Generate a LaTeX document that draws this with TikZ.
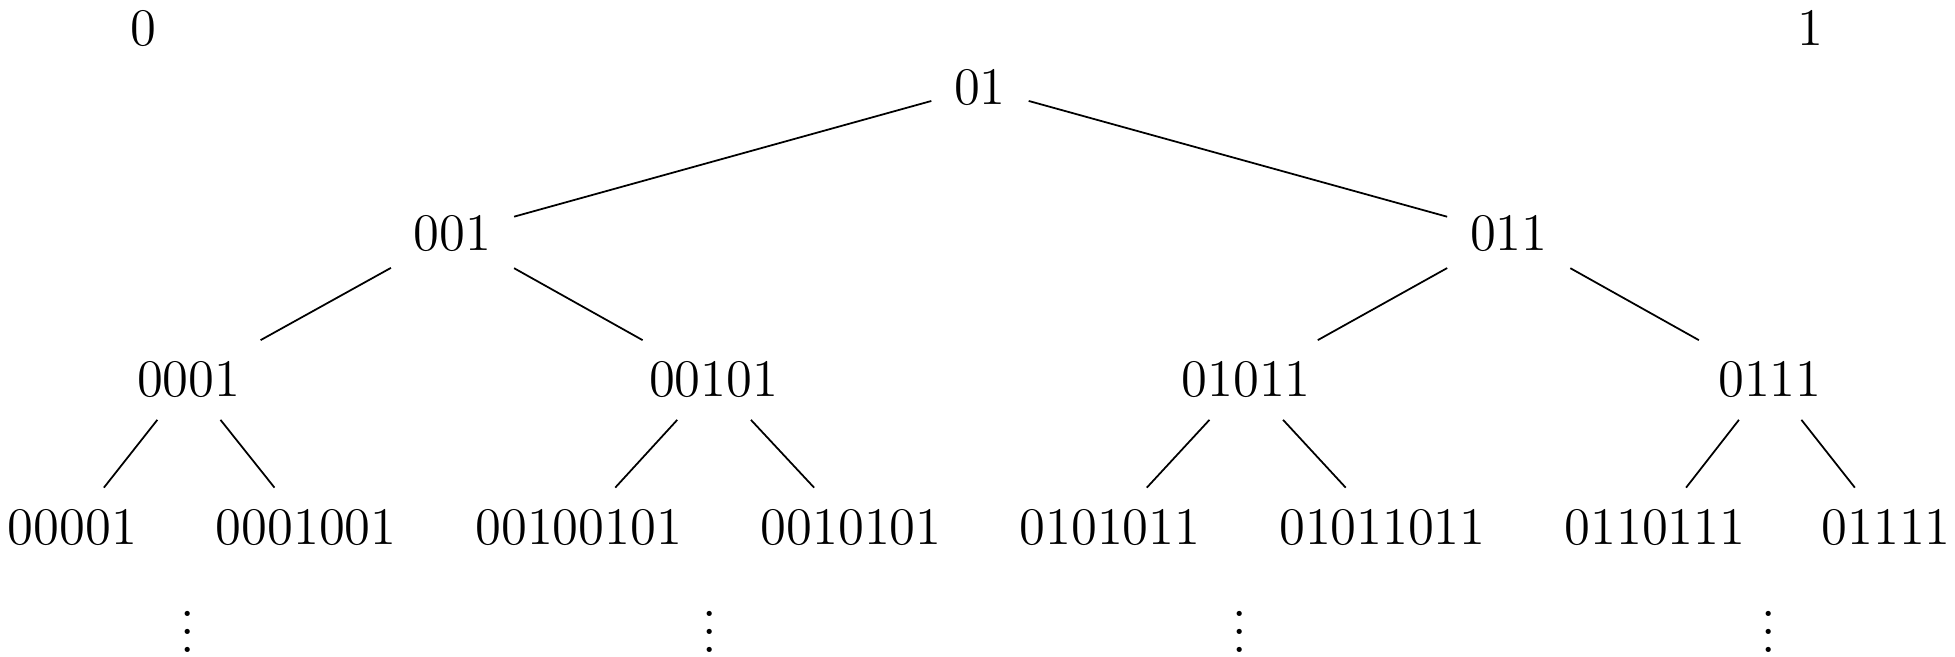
\documentclass[tikz,border=0pt]{standalone}
\begin{document}
\begin{tikzpicture}[x=0.01cm,y=-0.01cm,
  word/.style={inner sep=5pt,font=\fontsize{12.1}{14}\selectfont},
  edge/.style={line width=0.4pt}]
\useasboundingbox (0,0) rectangle (1564,525);
\node[word] (zero) at (115,23) {$0$};
\node[word] (one) at (1448,23) {$1$};
\node[word] (w01) at (784,70) {$01$};
\node[word] (w001) at (362,187) {$001$};
\node[word] (w011) at (1207,187) {$011$};
\node[word] (w0001) at (151,304) {$0001$};
\node[word] (w00101) at (571,304) {$00101$};
\node[word] (w01011) at (997,304) {$01011$};
\node[word] (w0111) at (1416,304) {$0111$};
\node[word] (w00001) at (58,422) {$00001$};
\node[word] (w0001001) at (245,422) {$0001001$};
\node[word] (w00100101) at (463,422) {$00100101$};
\node[word] (w0010101) at (681,422) {$0010101$};
\node[word] (w0101011) at (888,422) {$0101011$};
\node[word] (w01011011) at (1106,422) {$01011011$};
\node[word] (w0110111) at (1324,422) {$0110111$};
\node[word] (w01111) at (1509,422) {$01111$};
\foreach \x in {150,568,992,1415}
  \node[word] (dots\x) at (\x,495) {$\vdots$};
\draw[edge] (w01) -- (w001);
\draw[edge] (w01) -- (w011);
\draw[edge] (w001) -- (w0001);
\draw[edge] (w001) -- (w00101);
\draw[edge] (w011) -- (w01011);
\draw[edge] (w011) -- (w0111);
\draw[edge] (w0001) -- (w00001);
\draw[edge] (w0001) -- (w0001001);
\draw[edge] (w00101) -- (w00100101);
\draw[edge] (w00101) -- (w0010101);
\draw[edge] (w01011) -- (w0101011);
\draw[edge] (w01011) -- (w01011011);
\draw[edge] (w0111) -- (w0110111);
\draw[edge] (w0111) -- (w01111);
\end{tikzpicture}
\end{document}
